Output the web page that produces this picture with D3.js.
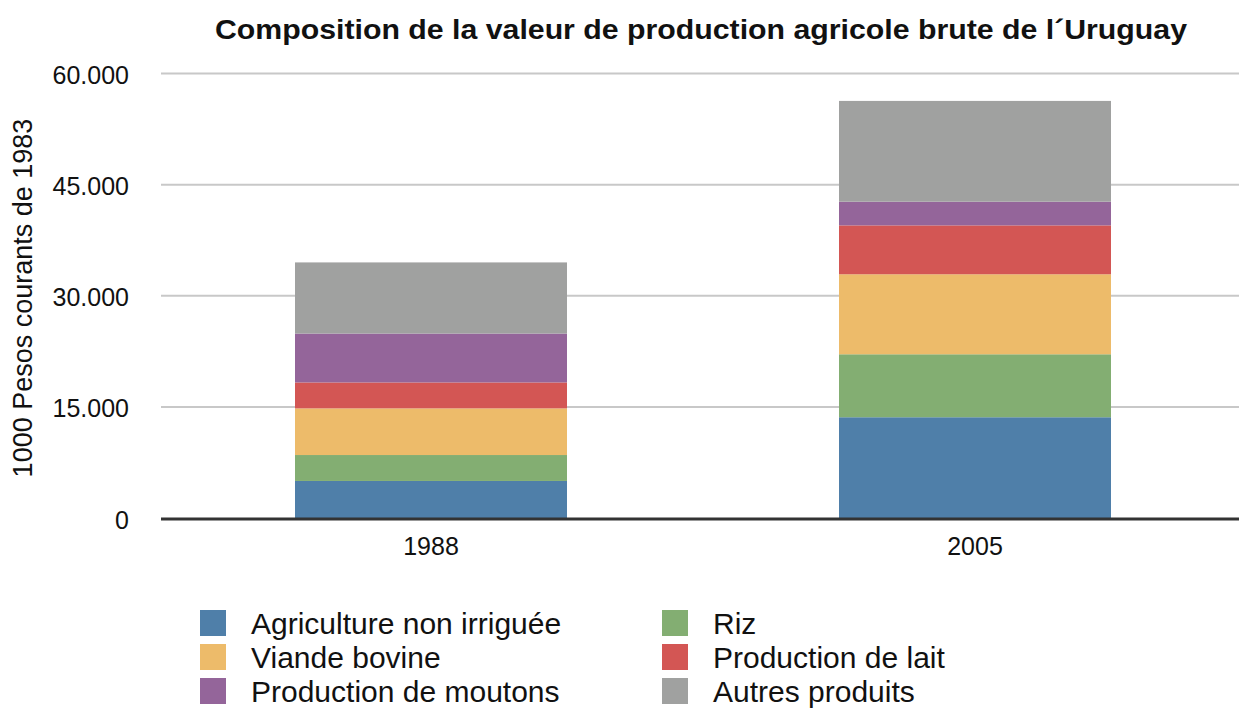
<!DOCTYPE html>
<html>
<head>
<meta charset="utf-8">
<script src="https://cdn.jsdelivr.net/npm/d3@7"></script>
<style>
  body { margin: 0; background: #fff; }
  text { font-family: "Liberation Sans", Arial, Helvetica, sans-serif; fill: #111; }
</style>
</head>
<body>
<div id="chart"></div>
<script>
// data (1000 pesos of 1983)
var years = ["1988", "2005"];
var series = ["Agriculture non irriguée", "Riz", "Viande bovine",
	"Production de lait", "Production de moutons", "Autres produits"];
var agriculture = [5000, 13600];
var riz = [3500, 8500];
var viande = [6300, 10800];
var lait = [3500, 6600];
var moutons = [6600, 3200];
var autres = [9600, 13600];
var yTicks = [0, 15000, 30000, 45000, 60000];
var colors = ["#4f7fa9", "#83ae72", "#edbb6a", "#d35654", "#94659a", "#a0a1a0"];

var columns = [agriculture, riz, viande, lait, moutons, autres];

var rows = years.map(function (y, i) {
	var r = {year: y};
	series.forEach(function (s, k) { r[s] = columns[k][i]; });
	return r;
});

var width = 1239, height = 709;

var svg = d3.select("#chart")
	.append("svg")
	.attr("width", width)
	.attr("height", height);

var x = d3.scaleBand()
	.domain(years)
	.range([159, 1247])
	.paddingInner(0.5)
	.paddingOuter(0.25);

var y = d3.scaleLinear()
	.domain([0, 60000])
	.range([518, 73.5]);

// title
svg.append("text")
	.attr("x", 215)
	.attr("y", 39)
	.attr("textLength", 972)
	.attr("lengthAdjust", "spacingAndGlyphs")
	.style("font-size", "27px")
	.style("font-weight", "bold")
	.text("Composition de la valeur de production agricole brute de l´Uruguay");

// grid lines
svg.append("g")
	.selectAll("line")
	.data(yTicks.filter(function (d) { return d > 0; }))
	.enter()
	.append("line")
	.attr("x1", 161)
	.attr("x2", width)
	.attr("y1", function (d) { return y(d); })
	.attr("y2", function (d) { return y(d); })
	.style("stroke", "#c8c8c8")
	.style("stroke-width", 2);

// y axis labels
var yAxis = d3.axisLeft(y)
	.tickValues(yTicks)
	.tickSize(0)
	.tickPadding(0)
	.tickFormat(function (d) { return d === 0 ? "0" : d3.format(",")(d).replace(/,/g, "."); });

var gy = svg.append("g")
	.attr("transform", "translate(129,0)")
	.call(yAxis);
gy.select(".domain").remove();
gy.selectAll("text")
	.attr("dy", "0.4em")
	.style("font-size", "25px")
	.style("font-family", "\"Liberation Sans\", Arial, sans-serif")
	.style("fill", "#111");

svg.append("text")
	.attr("transform", "translate(32,298) rotate(-90)")
	.attr("text-anchor", "middle")
	.style("font-size", "27px")
	.text("1000 Pesos courants de 1983");

// stacked bars
var stack = d3.stack().keys(series);
var layers = stack(rows);

svg.append("g")
	.selectAll("g")
	.data(layers)
	.enter()
	.append("g")
	.style("fill", function (d, i) { return colors[i]; })
	.selectAll("rect")
	.data(function (d) { return d; })
	.enter()
	.append("rect")
	.attr("x", function (d) { return x(d.data.year); })
	.attr("width", x.bandwidth())
	.attr("y", function (d) { return y(d[1]); })
	.attr("height", function (d) { return y(d[0]) - y(d[1]); });

// baseline
svg.append("line")
	.attr("x1", 161)
	.attr("x2", width)
	.attr("y1", y(0) + 1)
	.attr("y2", y(0) + 1)
	.style("stroke", "#333")
	.style("stroke-width", 3);

// x axis labels
var xAxis = d3.axisBottom(x).tickSize(0).tickPadding(0);
var gx = svg.append("g")
	.attr("transform", "translate(0,537)")
	.call(xAxis);
gx.select(".domain").remove();
gx.selectAll("text")
	.attr("dy", "0.71em")
	.style("font-size", "25px")
	.style("font-family", "\"Liberation Sans\", Arial, sans-serif")
	.style("fill", "#111");

// legend, two columns
var legend = svg.append("g").attr("class", "legend");

legend.selectAll("g")
	.data(series)
	.enter()
	.append("g")
	.each(function (d, i) {
		var g = d3.select(this);
		var col = i % 2, row = Math.floor(i / 2);
		var lx = col === 0 ? 200 : 662;
		var ly = 610 + row * 34;

		g.append("rect")
			.attr("x", lx)
			.attr("y", ly)
			.attr("width", 26)
			.attr("height", 26)
			.style("fill", colors[i]);

		g.append("text")
			.attr("x", lx + 51)
			.attr("y", ly + 24)
			.style("font-size", "30px")
			.text(d);
	});
</script>
</body>
</html>
